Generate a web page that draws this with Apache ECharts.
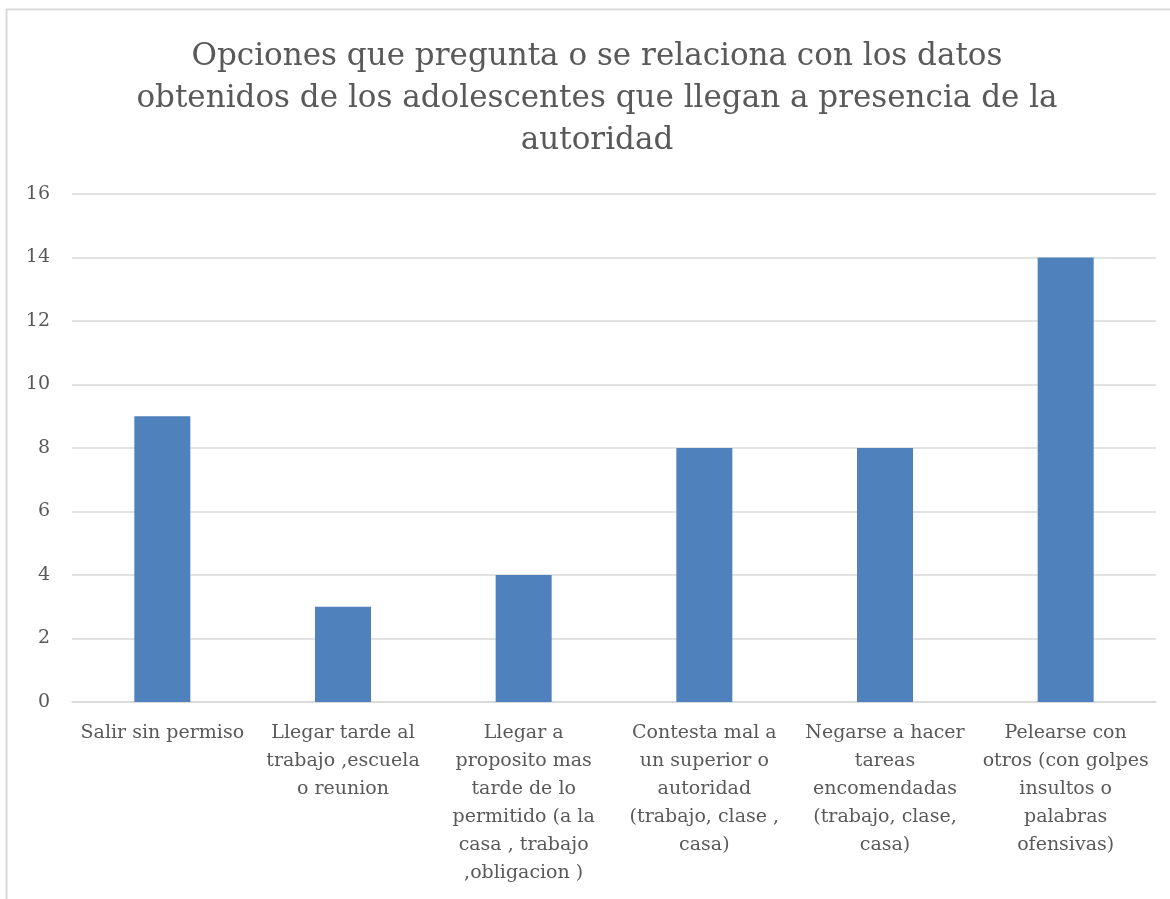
<!DOCTYPE html>
<html>
<head>
<meta charset="utf-8">
<script src="https://cdn.jsdelivr.net/npm/echarts@6/dist/echarts.min.js"></script>
<style>
  html, body { margin: 0; padding: 0; background: #fff; }
  #chart { width: 1170px; height: 899px; }
</style>
</head>
<body>
<div id="chart"></div>
<script>
/* ---- data ---- */
const categories = [
  "Salir sin permiso",
  "Llegar tarde al\ntrabajo ,escuela\no reunion",
  "Llegar a\nproposito mas\ntarde de lo\npermitido (a la\ncasa , trabajo\n,obligacion )",
  "Contesta mal a\nun superior o\nautoridad\n(trabajo, clase ,\ncasa)",
  "Negarse a hacer\ntareas\nencomendadas\n(trabajo, clase,\ncasa)",
  "Pelearse con\notros (con golpes\ninsultos o\npalabras\nofensivas)"
];
const values = [9, 3, 4, 8, 8, 14];
const yTicks = [0, 2, 4, 6, 8, 10, 12, 14, 16];
const titleText = "Opciones que pregunta o se relaciona con los datos\nobtenidos de los adolescentes que llegan a presencia de la\nautoridad";

/* ---- style ---- */
const FONT = "'DejaVu Serif', 'Liberation Serif', serif";
const TEXT = "#595959";
const GRID = "#D9D9D9";
const BAR = "#4F81BD";

const chart = echarts.init(document.getElementById("chart"), null, { renderer: "canvas" });
chart.setOption({
  backgroundColor: "#fff",
  animation: false,
  textStyle: { fontFamily: FONT, color: TEXT },
  graphic: [{
    type: "rect",
    shape: { x: 6.5, y: 9.5, width: 1200, height: 950 },
    style: { fill: "none", stroke: GRID, lineWidth: 2 },
    silent: true
  }],
  title: {
    text: titleText,
    left: 597,
    textAlign: "center",
    top: 36,
    padding: 0,
    textStyle: { fontFamily: FONT, fontWeight: "normal", fontSize: 31, lineHeight: 42, color: TEXT }
  },
  grid: { left: 72, right: 14, top: 194, bottom: 197, containLabel: false },
  xAxis: {
    type: "category",
    data: categories,
    axisLine: { show: true, lineStyle: { color: GRID, width: 1.5 } },
    axisTick: { show: false },
    axisLabel: {
      interval: 0, margin: 17, color: TEXT, fontFamily: FONT,
      fontSize: 19, lineHeight: 28, align: "center"
    }
  },
  yAxis: {
    type: "value",
    min: yTicks[0],
    max: yTicks[yTicks.length - 1],
    interval: 2,
    axisLine: { show: false },
    axisTick: { show: false },
    splitLine: { lineStyle: { color: GRID, width: 1.5 } },
    axisLabel: { color: TEXT, fontFamily: FONT, fontSize: 19, margin: 22 }
  },
  series: [{
    type: "bar",
    data: values,
    barWidth: 56,
    itemStyle: { color: BAR }
  }]
});
</script>
</body>
</html>
